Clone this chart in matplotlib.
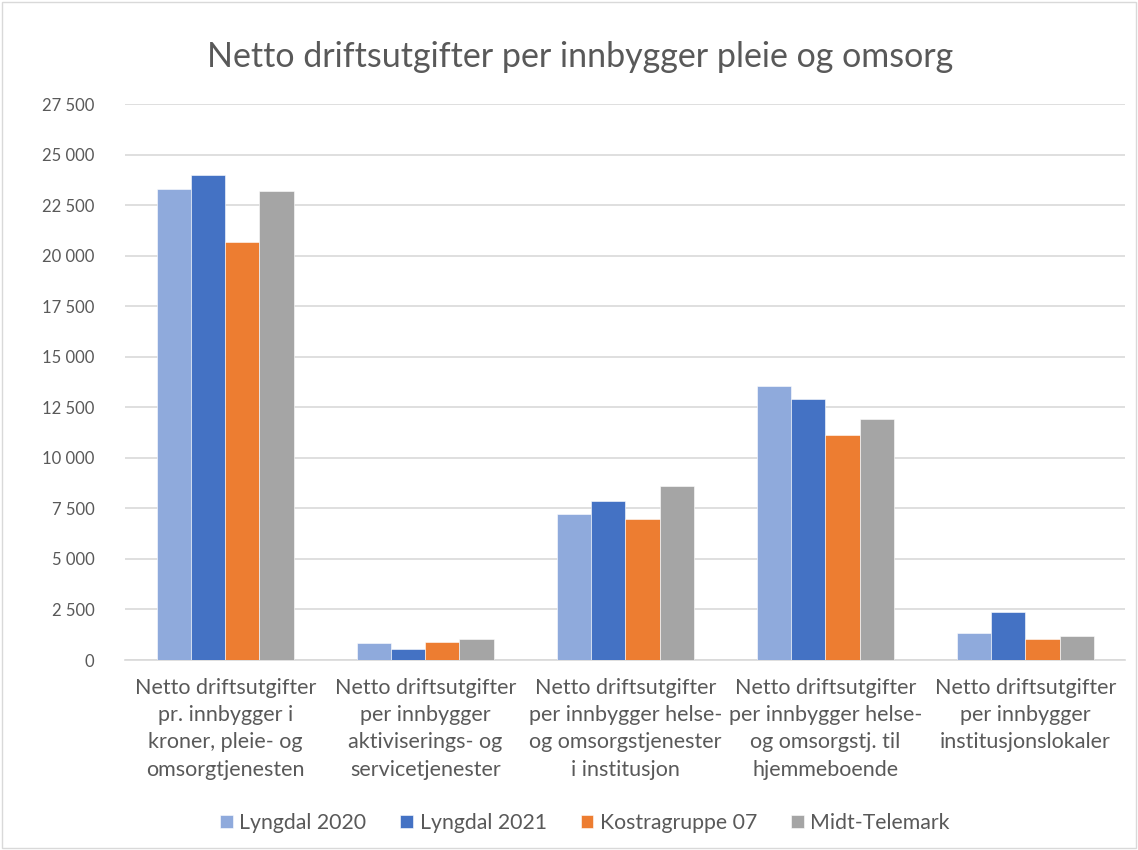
import matplotlib
matplotlib.use("Agg")
import matplotlib.pyplot as plt
import numpy as np
from matplotlib.ticker import FuncFormatter, MultipleLocator
from matplotlib.patches import Rectangle

plt.rcParams['font.family'] = ['Lato', 'DejaVu Sans']

categories = [
    "Netto driftsutgifter\npr. innbygger i\nkroner, pleie- og\nomsorgtjenesten",
    "Netto driftsutgifter\nper innbygger\naktiviserings- og\nservicetjenester",
    "Netto driftsutgifter\nper innbygger helse-\nog omsorgstjenester\ni institusjon",
    "Netto driftsutgifter\nper innbygger helse-\nog omsorgstj. til\nhjemmeboende",
    "Netto driftsutgifter\nper innbygger\ninstitusjonslokaler",
]
series_names = ["Lyngdal 2020", "Lyngdal 2021", "Kostragruppe 07", "Midt-Telemark"]
lyngdal_2020 = [23300, 830, 7240, 13530, 1320]
lyngdal_2021 = [24010, 530, 7890, 12900, 2380]
kostragruppe_07 = [20690, 890, 7000, 11140, 1020]
midt_telemark = [23180, 1020, 8610, 11910, 1190]
colors = ["#8FAADC", "#4472C4", "#ED7D31", "#A5A5A5"]

series = [lyngdal_2020, lyngdal_2021, kostragruppe_07, midt_telemark]

fig = plt.figure(figsize=(11.38, 8.5), dpi=100)
ax = fig.add_axes([0.11, 0.2235, 0.879, 0.6541])

x = np.arange(len(categories))
w = 0.171
for i, (vals, name, c) in enumerate(zip(series, series_names, colors)):
    ax.bar(x + (i - 1.5) * w, vals, width=w, color=c, label=name,
           edgecolor="white", linewidth=0.4, zorder=3)

ax.set_xlim(-0.5, len(categories) - 0.5)
ax.set_ylim(0, 27500)
ax.yaxis.set_major_locator(MultipleLocator(2500))
ax.yaxis.set_major_formatter(FuncFormatter(lambda v, p: f"{int(v):,}".replace(",", " ")))
ax.grid(axis="y", color="#D9D9D9", linewidth=1.2, zorder=0)
for s in ["top", "right", "left"]:
    ax.spines[s].set_visible(False)
ax.spines["bottom"].set_color("#D9D9D9")
ax.spines["bottom"].set_linewidth(1.2)
ax.tick_params(axis="both", length=0, colors="#595959")
ax.tick_params(axis="y", pad=22, labelsize=12)
ax.set_xticks(x)
ax.set_xticklabels(categories, fontsize=15.5, color="#595959", linespacing=1.45, va="top")
ax.tick_params(axis="x", pad=13)

fig.text(0.51, 0.933, "Netto driftsutgifter per innbygger pleie og omsorg",
         ha="center", va="center", fontsize=24.5, color="#595959")

leg = fig.legend(loc="center", bbox_to_anchor=(0.514, 0.032), ncol=4, frameon=False,
                 fontsize=15.3, handlelength=0.6, handleheight=0.6, handletextpad=0.3,
                 columnspacing=1.6, labelcolor="#595959")

fig.patches.append(Rectangle((0.002, 0.002), 0.996, 0.996, transform=fig.transFigure,
                             fill=False, edgecolor="#D9D9D9", linewidth=1))

fig.savefig("out.png", dpi=100, facecolor="white")
